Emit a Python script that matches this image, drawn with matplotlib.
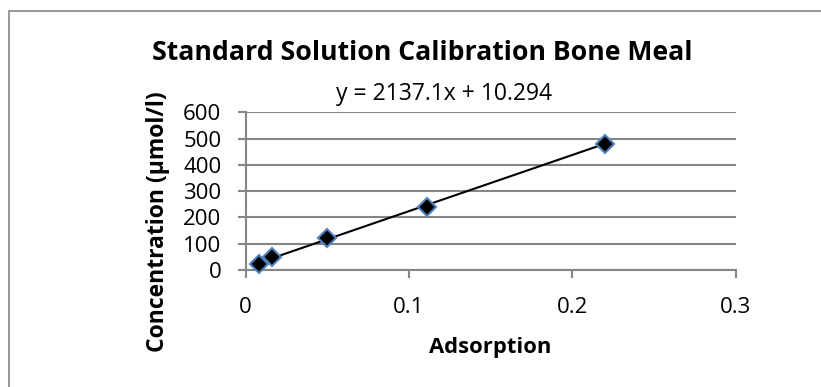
import matplotlib
matplotlib.use("Agg")
import matplotlib.pyplot as plt
from matplotlib.patches import Rectangle
import numpy as np

# standard solution readings
adsorption = [0.008, 0.016, 0.05, 0.111, 0.22]
concentration = [24, 48, 120, 240, 480]

# linear trendline
slope = 2137.1
intercept = 10.294

x_ticks = [0, 0.1, 0.2, 0.3]
y_ticks = [0, 100, 200, 300, 400, 500, 600]

plt.rcParams['font.family'] = ['Open Sans', 'DejaVu Sans']

W, H = 821, 387
fig = plt.figure(figsize=(W / 100, H / 100), dpi=100)
ax = fig.add_axes([245.7 / W, 1 - 270 / H, 490 / W, 157.7 / H])

# chart frame around everything
fig.patches.append(Rectangle((9 / W, -0.1), 1.1, 0.1 + (1 - 11 / H),
                             transform=fig.transFigure, fill=False,
                             edgecolor='#868686', linewidth=1.2))

grid_col = '#868686'
ax.set_xlim(0, 0.3)
ax.set_ylim(0, 600)
ax.set_xticks(x_ticks)
ax.set_yticks(y_ticks)
ax.set_xticklabels([f"{t:g}" for t in x_ticks])
ax.grid(axis='y', color=grid_col, linewidth=1.5)
ax.set_axisbelow(True)
for side in ['top', 'right']:
    ax.spines[side].set_visible(False)
for side in ['left', 'bottom']:
    ax.spines[side].set_color(grid_col)
    ax.spines[side].set_linewidth(1.5)
ax.tick_params(axis='both', colors=grid_col, width=1.5, length=5.6,
               labelsize=16, labelcolor='black')
ax.tick_params(axis='x', pad=14)
ax.tick_params(axis='y', pad=12)

xs = np.array([min(adsorption), max(adsorption)])
ax.plot(xs, slope * xs + intercept, color='black', linewidth=1.5, zorder=3)
ax.plot(adsorption, concentration, linestyle='none', marker='D',
        markersize=9.5, markerfacecolor='black', markeredgecolor='#4F81BD',
        markeredgewidth=1.5, zorder=4, clip_on=False)

fig.text(443.5 / W, 1 - 100 / H, f"y = {slope}x + {intercept}",
         ha='center', va='baseline', fontsize=16.5)

fig.text(422.5 / W, 1 - 60 / H, "Standard Solution Calibration Bone Meal",
         ha='center', va='baseline', fontsize=19.2, fontweight='bold')

ax.set_xlabel("Adsorption", fontsize=15.8, fontweight='bold', va='baseline')
ax.xaxis.set_label_coords(490 / W, 1 - 353 / H, transform=fig.transFigure)
ax.set_ylabel("Concentration (µmol/l)", fontsize=16.5, fontweight='bold',
              va='center')
ax.yaxis.set_label_coords(157.5 / W, 1 - 221.5 / H, transform=fig.transFigure)

fig.savefig("out.png", dpi=100)
